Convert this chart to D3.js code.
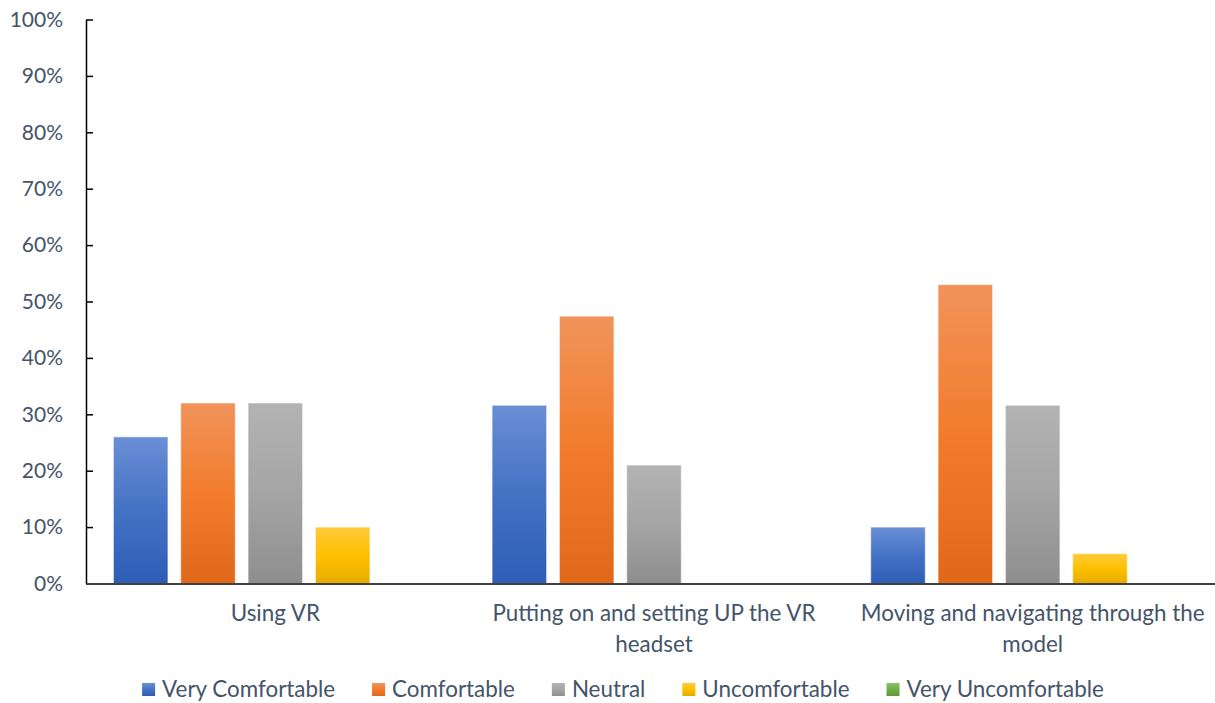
<!DOCTYPE html>
<html>
<head>
<meta charset="utf-8">
<script src="https://cdn.jsdelivr.net/npm/d3@7"></script>
<style>
  body { margin: 0; background: #fff; }
  svg { display: block; font-family: Lato, "Open Sans", sans-serif; }
</style>
</head>
<body>
<div id="chart"></div>
<script>
// Categories and series
const categories = [
  'Using VR',
  'Putting on and setting UP the VR headset',
  'Moving and navigating through the model'
];
const seriesNames = ['Very Comfortable', 'Comfortable', 'Neutral', 'Uncomfortable', 'Very Uncomfortable'];

// Values per series (fraction), one per category
const veryComfortable = [0.26, 0.316, 0.10];
const comfortable = [0.32, 0.474, 0.53];
const neutral = [0.32, 0.21, 0.316];
const uncomfortable = [0.10, 0, 0.053];
const veryUncomfortable = [0, 0, 0];

const yTicks = [0, 0.1, 0.2, 0.3, 0.4, 0.5, 0.6, 0.7, 0.8, 0.9, 1];

const seriesValues = [veryComfortable, comfortable, neutral, uncomfortable, veryUncomfortable];

// Gradient colours (top, middle, bottom) for each series
const palette = [
  ['#6a8fd5', '#4472c4', '#2d5db5'],
  ['#f1935a', '#f27c2c', '#e0681a'],
  ['#b3b3b3', '#a5a5a5', '#8e8e8e'],
  ['#ffca3c', '#ffc000', '#e6ac00'],
  ['#8cc265', '#70ad47', '#5f9a38']
];

const width = 1215;
const height = 703;
const margin = { left: 86, right: -7, top: 19.5, bottom: 119.5 };
const textColor = '#44546a';

const svg = d3.select('#chart')
  .append('svg')
  .attr('width', width)
  .attr('height', height);

const defs = svg.append('defs');
palette.forEach((c, i) => {
  const g = defs.append('linearGradient')
    .attr('id', 'grad' + i)
    .attr('x1', 0).attr('y1', 0).attr('x2', 0).attr('y2', 1);
  g.append('stop').attr('offset', '0%').attr('stop-color', c[0]);
  g.append('stop').attr('offset', '50%').attr('stop-color', c[1]);
  g.append('stop').attr('offset', '100%').attr('stop-color', c[2]);
});

// Scales
const x0 = d3.scaleBand()
  .domain(categories)
  .range([margin.left, width - margin.right]);

const x1 = d3.scaleBand()
  .domain(seriesNames)
  .range([0, x0.bandwidth()])
  .paddingInner(0.19)
  .paddingOuter(0.407);

const y = d3.scaleLinear()
  .domain([0, 1])
  .range([height - margin.bottom, margin.top]);

// Bars
const groups = svg.append('g')
  .selectAll('g')
  .data(categories)
  .join('g')
  .attr('transform', d => `translate(${x0(d)},0)`);

groups.selectAll('rect')
  .data((cat, ci) => seriesNames.map((s, si) => ({ s, si, v: seriesValues[si][ci] })))
  .join('rect')
  .filter(d => d.v > 0)
  .attr('x', d => x1(d.s))
  .attr('width', x1.bandwidth())
  .attr('y', d => y(d.v))
  .attr('height', d => y(0) - y(d.v))
  .attr('fill', d => `url(#grad${d.si})`)
  .attr('stroke', 'rgba(255,255,255,0.55)')
  .attr('stroke-width', 1);

// Y axis
const yAxis = svg.append('g')
  .attr('transform', `translate(${margin.left},0)`)
  .call(d3.axisLeft(y)
    .tickValues(yTicks)
    .tickFormat(d3.format('.0%'))
    .tickSizeInner(-7)
    .tickSizeOuter(0)
    .tickPadding(23));

yAxis.select('.domain').attr('stroke', '#000').attr('stroke-width', 1.5);
yAxis.selectAll('.tick line').attr('stroke', '#000').attr('stroke-width', 1.5);
yAxis.selectAll('.tick text')
  .attr('fill', textColor)
  .style('font-size', '21px')
  .style('font-family', 'Lato, sans-serif');

// X axis
const xAxis = svg.append('g')
  .attr('transform', `translate(0,${y(0)})`)
  .call(d3.axisBottom(x0).tickSize(0).tickPadding(22));

xAxis.select('.domain').attr('stroke', '#404040').attr('stroke-width', 2);
xAxis.selectAll('.tick text')
  .attr('fill', textColor)
  .style('font-size', '22.4px')
  .style('font-family', 'Lato, sans-serif')
  .call(wrap, 360);

function wrap(sel, maxWidth) {
  sel.each(function() {
    const text = d3.select(this);
    const words = text.text().split(/\s+/);
    const yy = text.attr('y');
    const dy = parseFloat(text.attr('dy'));
    text.text(null);
    let line = [];
    let lineNo = 0;
    let tspan = text.append('tspan').attr('x', 0).attr('y', yy).attr('dy', dy + 'em');
    words.forEach(w => {
      line.push(w);
      tspan.text(line.join(' '));
      if (tspan.node().getComputedTextLength() > maxWidth && line.length > 1) {
        line.pop();
        tspan.text(line.join(' '));
        line = [w];
        lineNo++;
        tspan = text.append('tspan').attr('x', 0).attr('y', yy)
          .attr('dy', (dy + lineNo * 1.36) + 'em').text(w);
      }
    });
  });
}

// Legend
const legend = svg.append('g');
const items = legend.selectAll('g')
  .data(seriesNames)
  .join('g');

items.append('rect')
  .attr('width', 13)
  .attr('height', 13)
  .attr('y', -7)
  .attr('fill', (d, i) => `url(#grad${i})`);

items.append('text')
  .attr('x', 20)
  .attr('y', 0)
  .attr('dy', '0.32em')
  .attr('fill', textColor)
  .style('font-size', '22.4px')
  .text(d => d);

let offset = 0;
items.each(function() {
  const w = this.getBBox().width;
  d3.select(this).attr('transform', `translate(${offset},0)`);
  offset += w + 37;
});
const legendWidth = offset - 37;
legend.attr('transform', `translate(${623 - legendWidth / 2},${690})`);
</script>
</body>
</html>
